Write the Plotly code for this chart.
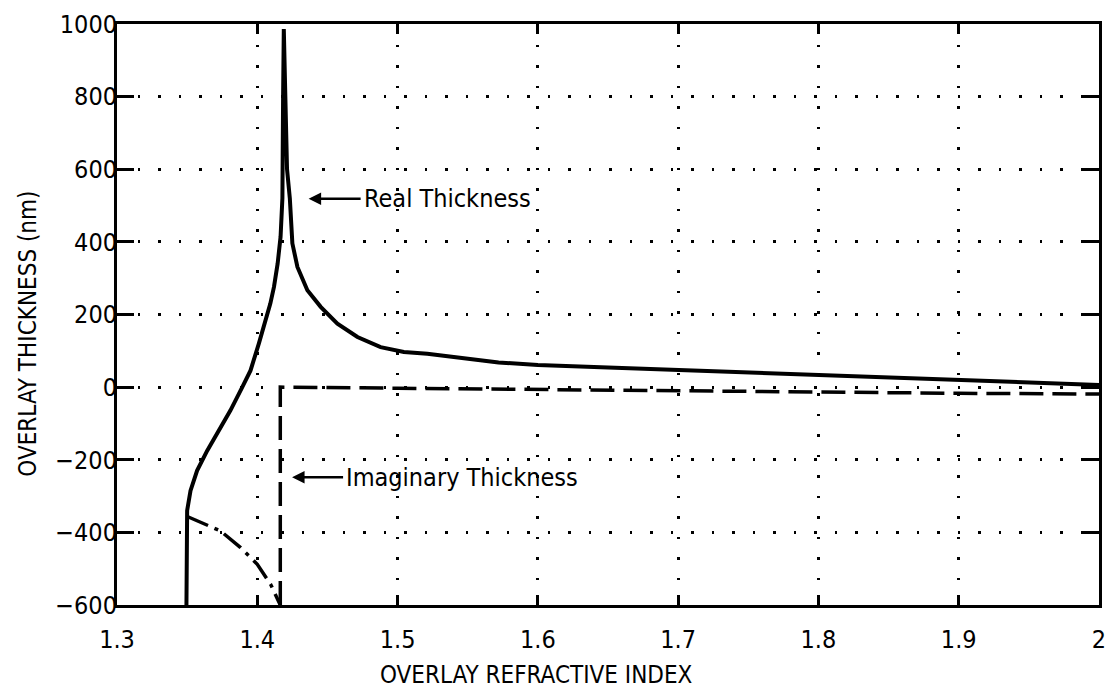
import plotly.graph_objects as go

# Real thickness curve
real_x = [1.3495, 1.3495, 1.3500, 1.3524, 1.3571, 1.3643, 1.3714, 1.3809, 1.3893,
          1.3952, 1.4011, 1.4059, 1.4093, 1.4119, 1.4145, 1.4166, 1.4179, 1.4184,
          1.4189, 1.4200, 1.4212, 1.4232, 1.4238, 1.4250, 1.4286, 1.4357, 1.4452,
          1.4571, 1.4714, 1.4879, 1.5045, 1.5212, 1.5720, 1.60, 1.65, 1.70, 1.80, 1.90, 2.0]
real_y = [-600, -368, -340, -285, -230, -175, -129, -64, 0,
          46, 120, 184, 230, 276, 340, 414, 520, 800,
          986, 800, 600, 520, 470, 396, 331, 267, 221,
          175, 138, 110, 97, 92, 68, 61, 54, 47, 33, 19, 6]

# Imaginary thickness: curved (dash-dot) part, then step and nearly flat dashed part
imag_curve_x = [1.3505, 1.3600, 1.3738, 1.3881, 1.4000, 1.4095, 1.4164]
imag_curve_y = [-357, -372, -396, -442, -488, -543, -600]
imag_flat_x = [1.4164, 1.4164, 1.5, 1.6, 1.7, 1.8, 1.9, 2.0]
imag_flat_y = [-600, 0, -3, -7, -11, -15, -17, -19]

x_ticks = [1.3, 1.4, 1.5, 1.6, 1.7, 1.8, 1.9, 2.0]
x_tick_text = ["1.3", "1.4", "1.5", "1.6", "1.7", "1.8", "1.9", "2"]
y_ticks = [-600, -400, -200, 0, 200, 400, 600, 800, 1000]
y_tick_text = ["\u2212600", "\u2212400", "\u2212200", "0", "200", "400", "600", "800", "1000"]

FONT = "Liberation Sans Narrow, DejaVu Sans Condensed, Roboto Condensed, Liberation Sans, sans-serif"

fig = go.Figure()
fig.add_trace(go.Scatter(x=real_x, y=real_y, mode="lines",
                         line=dict(color="black", width=4), name="Real Thickness"))
fig.add_trace(go.Scatter(x=imag_curve_x, y=imag_curve_y, mode="lines",
                         line=dict(color="black", width=3.5, dash="22px,7px,4px,7px"),
                         name="Imaginary Thickness"))
fig.add_trace(go.Scatter(x=imag_flat_x, y=imag_flat_y, mode="lines",
                         line=dict(color="black", width=3.5, dash="24px,9px"),
                         name="Imaginary Thickness", showlegend=False))

fig.add_annotation(x=1.4366, y=519, text="Real Thickness", showarrow=True,
                   ax=52, ay=0, xanchor="left", yanchor="middle",
                   arrowhead=2, arrowsize=1, arrowwidth=2.5, arrowcolor="black",
                   standoff=0, borderpad=2,
                   font=dict(family=FONT, size=25, color="black"))
fig.add_annotation(x=1.4248, y=-248, text="Imaginary Thickness", showarrow=True,
                   ax=51, ay=0, xanchor="left", yanchor="middle",
                   arrowhead=2, arrowsize=1, arrowwidth=2.5, arrowcolor="black",
                   standoff=0, borderpad=2,
                   font=dict(family=FONT, size=25, color="black"))

W, H = 1114, 700
L, R, T, B = 117, 8, 24, 95
pw, ph = W - L - R, H - T - B

# Axis titles (placed as in the reference)
fig.add_annotation(x=(539 - L) / pw, y=(H - B - 675) / ph, xref="paper", yref="paper",
                   xanchor="center", yanchor="middle",
                   text="OVERLAY REFRACTIVE INDEX", showarrow=False,
                   font=dict(family=FONT, size=24, color="black"))
fig.add_annotation(x=(27 - L) / pw, y=(H - B - 334) / ph, xref="paper", yref="paper",
                   xanchor="center", yanchor="middle",
                   text="OVERLAY THICKNESS (nm)", showarrow=False, textangle=-90,
                   font=dict(family=FONT, size=24, color="black"))

axis_common = dict(showline=True, linewidth=3, linecolor="black", mirror="ticks",
                   ticks="inside", tickwidth=2.5, tickcolor="black",
                   showgrid=True, gridcolor="black", gridwidth=2.5, griddash="2.5px,18px",
                   zeroline=False, tickfont=dict(family=FONT, size=25, color="black"))

fig.update_xaxes(range=[1.3, 2.0], tickvals=x_ticks, ticktext=x_tick_text,
                 ticklen=10, ticklabelstandoff=10, **axis_common)
fig.update_yaxes(range=[-600, 1000], tickvals=y_ticks, ticktext=y_tick_text,
                 ticklen=17, ticklabelstandoff=-8, **axis_common)

fig.update_layout(width=W, height=H, showlegend=False,
                  margin=dict(l=L, r=R, t=T, b=B),
                  paper_bgcolor="white", plot_bgcolor="white",
                  font=dict(family=FONT, color="black"))

fig.write_html("out.html")
